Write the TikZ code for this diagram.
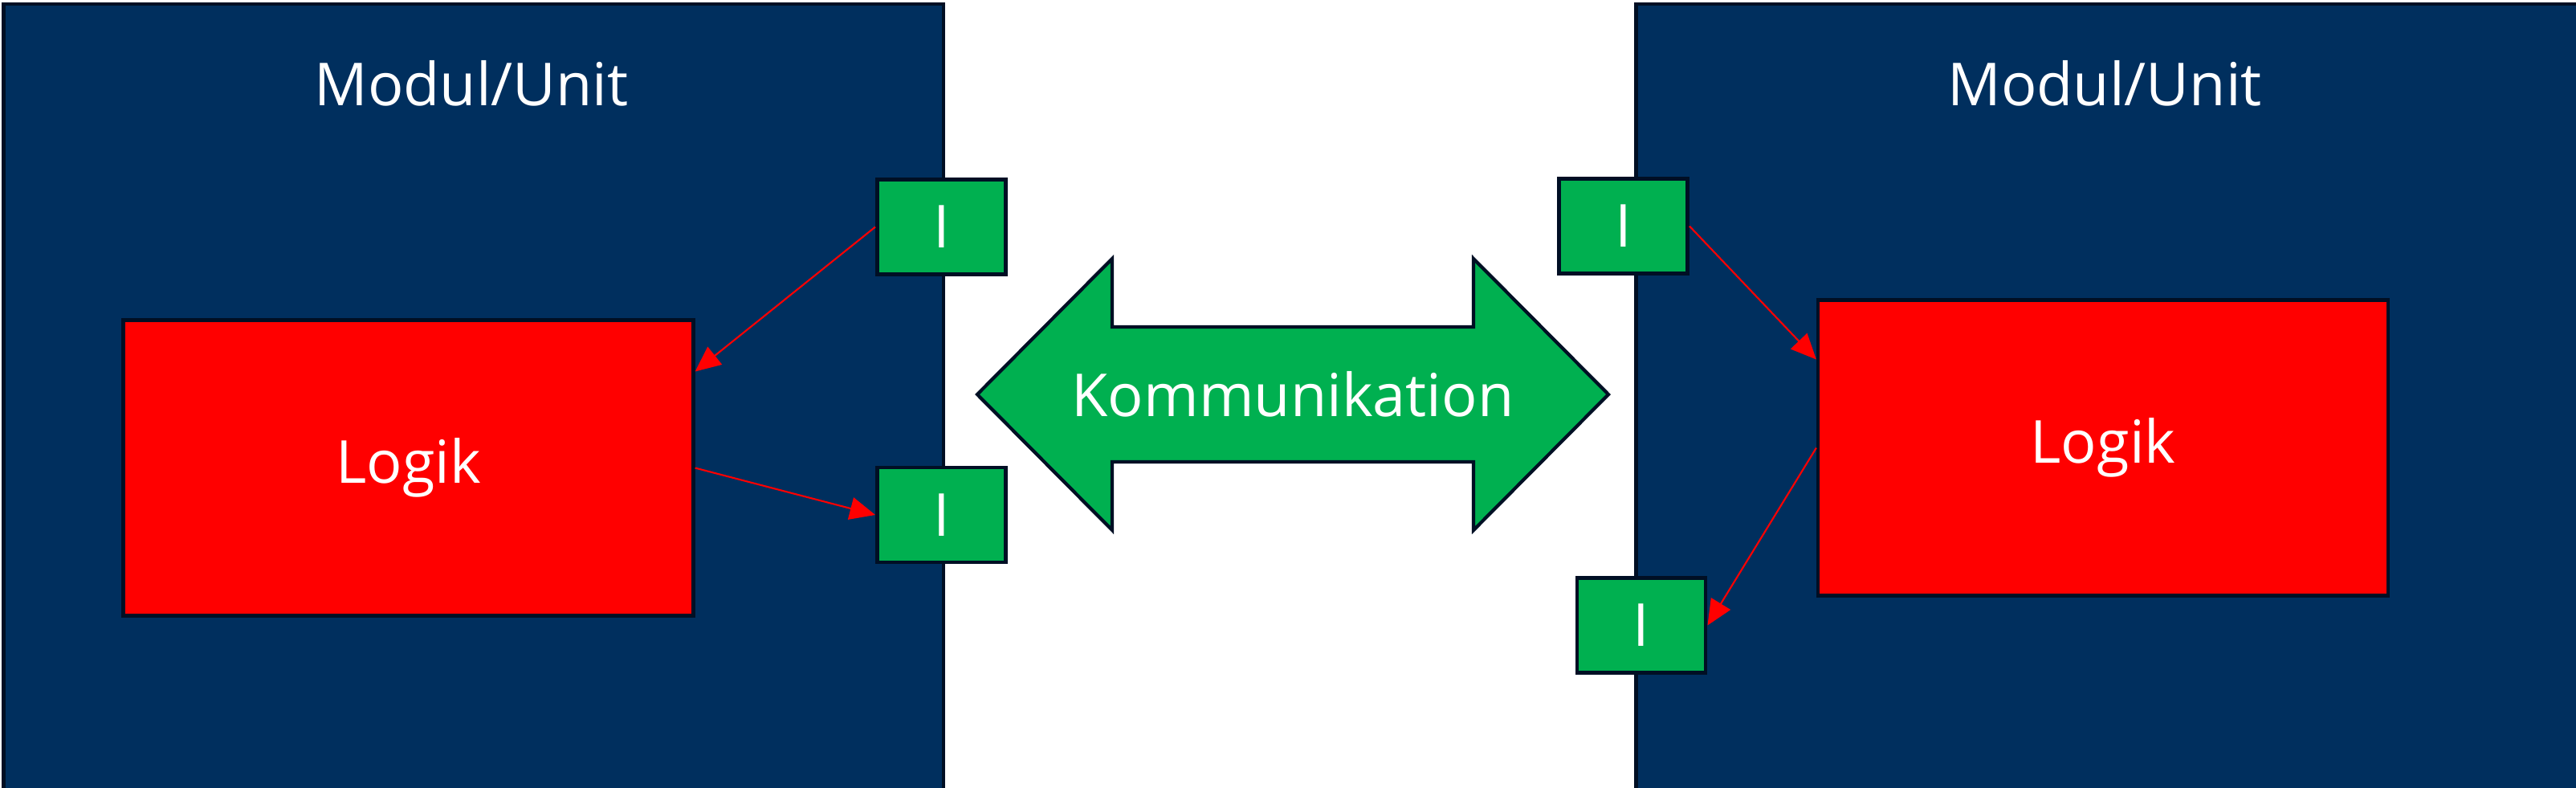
\documentclass[tikz,border=0pt]{standalone}
\usepackage{fontspec}
\setmainfont{Open Sans}
\usetikzlibrary{arrows.meta, positioning, calc}
\definecolor{navy}{HTML}{002F5E}
\definecolor{edge}{HTML}{000F24}
\definecolor{grn}{HTML}{00B050}
\definecolor{rd}{HTML}{FF0000}
\tikzset{
  modul/.style={draw=edge, fill=navy, line width=1.4pt, anchor=north west, inner sep=0pt},
  kopf/.style={font=\fontsize{21}{25}\selectfont, text=white, anchor=base},
  logik/.style={draw=edge, fill=rd, line width=1.2pt, minimum width=7.1cm, minimum height=3.68cm,
                font=\fontsize{21}{25}\selectfont, text=white},
  ibox/.style={draw=edge, fill=grn, line width=1.4pt, minimum width=1.6cm, minimum height=1.18cm,
               inner sep=0pt, font=\fontsize{21}{25}\selectfont, text=white},
  komm/.style={draw=edge, fill=grn, line width=1.2pt, line join=miter},
  fl/.style={-{Triangle[length=9pt, width=8pt]}, line width=0.6pt, draw=rd},
}

\begin{document}
\begin{tikzpicture}
  \clip (0,0) rectangle (32.08,-9.8);
  \node[modul, minimum width=11.7cm, minimum height=10.5cm] (m1) at (0.025,-0.025) {};
  \node[modul, minimum width=12cm, minimum height=10.5cm] (m2) at (20.35,-0.025) {};
  \node[kopf] (t1) at (5.87,-1.31) {Modul/Unit};
  \node[kopf] (t2) at (26.21,-1.31) {Modul/Unit};

  \node[logik] (lg1) at (5.085,-5.825) {Logik};
  \node[logik] (lg2) at (26.19,-5.575) {Logik};

  \node[ibox] (i1) at (11.725,-2.825) {I};
  \node[ibox] (i2) at (11.725,-6.41) {I};
  \node[ibox] (i3) at (20.215,-2.815) {I};
  \node[ibox] (i4) at (20.44,-7.785) {I};

  \coordinate (kc) at (16.1,-4.91);
  \draw[komm] ($(kc)+(-3.93,0)$) -- ++(1.68,1.69) -- ++(0,-0.85) -- ++(4.5,0) -- ++(0,0.85)
    -- ++(1.68,-1.69) -- ++(-1.68,-1.69) -- ++(0,0.85) -- ++(-4.5,0) -- ++(0,-0.85) -- cycle;
  \node[font=\fontsize{21}{25}\selectfont, text=white] (kt) at (kc) {Kommunikation};

  \draw[fl] (i1.west) -- ([yshift=1.2cm]lg1.east);
  \draw[fl] (lg1.east) -- (i2.west);
  \draw[fl] (i3.east) -- ([yshift=1.1cm]lg2.west);
  \draw[fl] (lg2.west) -- (i4.east);
\end{tikzpicture}
\end{document}
